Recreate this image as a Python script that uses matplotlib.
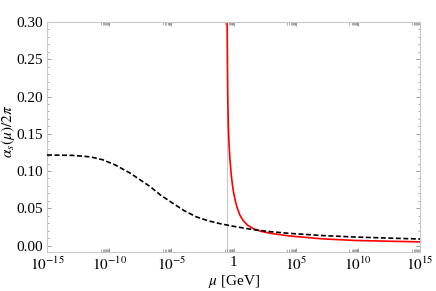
import numpy as np
import matplotlib
matplotlib.use("Agg")
from matplotlib import pyplot as plt

plt.rcParams['font.family'] = ['Liberation Serif', 'DejaVu Serif']
plt.rcParams['mathtext.fontset'] = 'stix'

# log10(mu / GeV) and alpha_s/2pi
log_mu_black = [-15, -13, -11.5, -10.5, -9.5, -8.3, -7.5, -6.7, -5.9, -5.0, -4.0,
                -3.0, -2.0, -1.0, 0.0, 1.5, 3.0, 4.5, 7.2, 9.9, 15]
alpha_black = [0.1215, 0.121, 0.119, 0.115, 0.108, 0.097, 0.088, 0.079, 0.068, 0.058, 0.047,
               0.0385, 0.0330, 0.0290, 0.0258, 0.0215, 0.0185, 0.0163, 0.0133, 0.0113, 0.0087]

log_mu_red = [-0.52, -0.50, -0.47, -0.43, -0.38, -0.30, -0.20, -0.10, 0.0, 0.15, 0.3,
              0.5, 0.75, 1.1, 1.6, 2.2, 3.0, 4.5, 7.2, 9.9, 15]
alpha_red = [0.30, 0.25, 0.20, 0.165, 0.14, 0.117, 0.097, 0.082, 0.071, 0.059, 0.050,
             0.041, 0.034, 0.0275, 0.0225, 0.019, 0.0163, 0.0128, 0.0089, 0.0067, 0.0049]

pole_mu = 10 ** -0.53

x_major = [10.0 ** e for e in range(-15, 16, 5)]
x_labels = ['$10^{-15}$', '$10^{-10}$', '$10^{-5}$', '1', '$10^{5}$', '$10^{10}$', '$10^{15}$']
y_major = [0.00, 0.05, 0.10, 0.15, 0.20, 0.25, 0.30]

fig = plt.figure(figsize=(4.36, 2.91), dpi=100)
ax = fig.add_axes([0.1078, 0.134, 0.856, 0.7904])

ax.axvline(pole_mu, color='#c8c8c8', lw=0.8, zorder=1)
ax.plot(10.0 ** np.array(log_mu_black), alpha_black, color='black', lw=1.2,
        ls=(0, (3, 1.5)), zorder=3)
ax.plot(10.0 ** np.array(log_mu_red), alpha_red, color='#ff0000', lw=1.2, zorder=2)

ax.set_xscale('log')
ax.set_xlim(1e-15, 1e15)
ax.set_ylim(-0.0087, 0.30)

ax.set_xticks(x_major)
ax.set_xticklabels(x_labels)
minors = [k * 10.0 ** (e - 1) for e in range(-15, 16, 5) for k in range(2, 10)]
minors = [m for m in minors if 1e-15 <= m <= 1e15]
ax.set_xticks(minors, minor=True)
ax.set_yticks(y_major)
ax.set_yticklabels(['%.2f' % v for v in y_major])
ax.set_yticks(np.arange(0, 0.301, 0.01), minor=True)

for s in ax.spines.values():
    s.set_color('#c8c8c8')
    s.set_linewidth(0.8)

ax.tick_params(which='both', direction='in', top=True, right=True, color='#888888',
               labelsize=11, pad=3)
ax.tick_params(which='major', length=3, width=0.6)
ax.tick_params(which='minor', length=1.5, width=0.5)
ax.tick_params(axis='x', which='minor', length=2)

ax.set_xlabel(r'$\mu$ [GeV]', fontsize=11)
ax.set_ylabel(r'$\alpha_s(\mu)/2\pi$', fontsize=11)
ax.xaxis.set_label_coords(0.5, -0.09)
ax.yaxis.set_label_coords(-0.08, 0.526)

fig.savefig('out.png', dpi=100)
